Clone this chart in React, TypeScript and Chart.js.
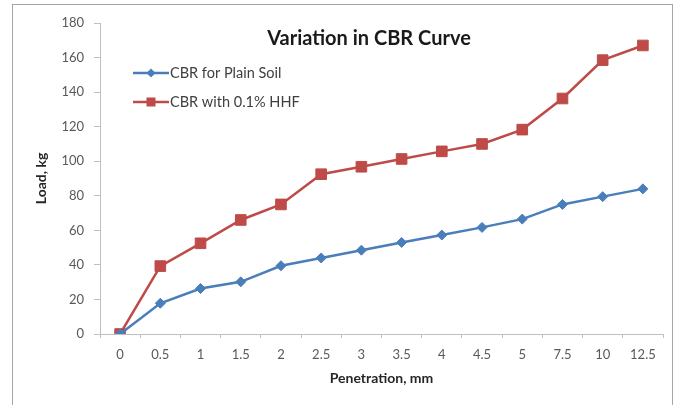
import React, { useEffect, useRef } from "react";
import { Chart, registerables } from "chart.js";

Chart.register(...registerables);

const penetration = ["0", "0.5", "1", "1.5", "2", "2.5", "3", "3.5", "4", "4.5", "5", "7.5", "10", "12.5"];
const plainSoil = [0, 17.8, 26.3, 30.2, 39.5, 44, 48.5, 53, 57.3, 61.7, 66.5, 75, 79.5, 84];
const withHHF = [0, 39.3, 52.5, 66, 75, 92.5, 96.8, 101.3, 105.7, 110, 118.3, 136.3, 158.5, 167];
const seriesLabels = ["CBR for Plain Soil", "CBR with 0.1% HHF"];
const chartTitle = "Variation in CBR Curve";
const xTitle = "Penetration, mm";
const yTitle = "Load, kg";

const FONT = "Lato, 'Open Sans', sans-serif";
const BLUE = "#4a7ebb";
const RED = "#be4b48";

const framePlugin = {
  id: "frame",
  beforeDraw(chart: any) {
    const ctx = chart.ctx;
    ctx.save();
    ctx.fillStyle = "#ffffff";
    ctx.fillRect(0, 0, chart.width, chart.height);
    ctx.strokeStyle = "#a6a6a6";
    ctx.lineWidth = 1;
    ctx.strokeRect(12.5, 4.5, 660, 410);
    ctx.restore();
  },
};

const overlayPlugin = {
  id: "overlay",
  afterDraw(chart: any) {
    const ctx = chart.ctx;
    ctx.save();
    ctx.fillStyle = "#1a1a1a";
    ctx.font = `bold 20px ${FONT}`;
    ctx.textAlign = "center";
    ctx.textBaseline = "middle";
    ctx.fillText(chartTitle, 369, 39);

    chart.data.datasets.forEach((ds: any, i: number) => {
      const y = 73 + i * 29;
      ctx.strokeStyle = ds.borderColor;
      ctx.lineWidth = 2.5;
      ctx.beginPath();
      ctx.moveTo(133, y);
      ctx.lineTo(169, y);
      ctx.stroke();
      ctx.fillStyle = ds.backgroundColor;
      ctx.beginPath();
      if (ds.pointStyle === "rect") {
        const s = 4.5;
        ctx.rect(151 - s, y - s, 2 * s, 2 * s);
      } else {
        const r = 4.5;
        ctx.moveTo(151, y - r);
        ctx.lineTo(151 + r, y);
        ctx.lineTo(151, y + r);
        ctx.lineTo(151 - r, y);
        ctx.closePath();
      }
      ctx.fill();
      ctx.fillStyle = "#404040";
      ctx.font = `14.5px ${FONT}`;
      ctx.textAlign = "left";
      ctx.fillText(ds.label, 170, y);
    });
    ctx.restore();
  },
};

export default function App() {
  const ref = useRef<HTMLCanvasElement>(null);
  useEffect(() => {
    if (!ref.current) return;
    const chart = new Chart(ref.current, {
      type: "line",
      data: {
        labels: penetration,
        datasets: [
          {
            label: seriesLabels[0],
            data: plainSoil,
            borderColor: BLUE,
            backgroundColor: BLUE,
            borderWidth: 2.5,
            pointStyle: "rectRot",
            pointRadius: 5,
            pointBorderWidth: 1,
            tension: 0,
          },
          {
            label: seriesLabels[1],
            data: withHHF,
            borderColor: RED,
            backgroundColor: RED,
            borderWidth: 2.5,
            pointStyle: "rect",
            pointRadius: 7.5,
            pointBorderWidth: 1,
            tension: 0,
          },
        ],
      },
      options: {
        responsive: false,
        animation: false,
        layout: { padding: { top: 23, right: 21, left: 0, bottom: 0 } },
        plugins: {
          legend: { display: false },
          title: { display: false },
          tooltip: { enabled: false },
        },
        scales: {
          x: {
            offset: true,
            afterFit: (s: any) => {
              s.height = 71;
            },
            grid: {
              offset: true,
              drawOnChartArea: false,
              drawTicks: true,
              tickLength: 4,
              color: "#bfbfbf",
            },
            border: { color: "#bfbfbf", width: 1 },
            ticks: {
              color: "#595959",
              font: { family: FONT, size: 13 },
              padding: 9,
              maxRotation: 0,
              autoSkip: false,
            },
            title: {
              display: true,
              text: xTitle,
              color: "#262626",
              font: { family: FONT, size: 14, weight: "bold" },
              padding: { top: 0, bottom: 18 },
            },
          },
          y: {
            min: 0,
            max: 180,
            afterFit: (s: any) => {
              s.width = 100;
            },
            grid: {
              drawOnChartArea: false,
              drawTicks: true,
              tickLength: 6,
              color: "#bfbfbf",
            },
            border: { color: "#bfbfbf", width: 1 },
            ticks: {
              stepSize: 20,
              color: "#595959",
              font: { family: FONT, size: 13 },
              padding: 10,
            },
            title: {
              display: true,
              text: yTitle,
              color: "#262626",
              font: { family: FONT, size: 14, weight: "bold" },
              padding: { top: 33, bottom: 0 },
            },
          },
        },
      },
      plugins: [framePlugin, overlayPlugin],
    });
    return () => chart.destroy();
  }, []);
  return (
    <div style={{ position: "fixed", left: 0, top: 0, width: 684, height: 405, background: "#fff" }}>
      <canvas ref={ref} width={684} height={405} style={{ display: "block" }} />
    </div>
  );
}
